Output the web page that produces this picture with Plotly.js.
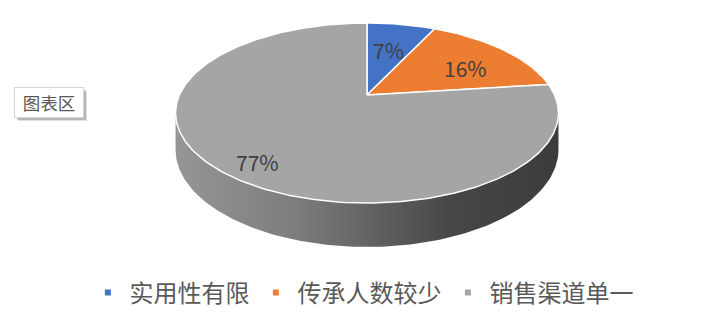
<!DOCTYPE html>
<html>
<head>
<meta charset="utf-8">
<script src="https://cdn.plot.ly/plotly-3.0.1.min.js"></script>
<style>
  html, body { margin: 0; padding: 0; background: #ffffff; }
  #chart { width: 708px; height: 322px; }
</style>
</head>
<body>
<div id="chart"></div>
<script>
// Reasons why the craft struggles, share of responses (%)
const categories = ['实用性有限', '传承人数较少', '销售渠道单一'];
const shares = [7, 16, 77];
const sliceColors = ['#4472C4', '#ED7D31', '#A5A5A5'];

// Tilted-disc geometry (pixels), perspective factor and disc thickness
const cx = 367, cy = 95, R = 187.6, Ry = 86.4, persp = 0.2, depth = 35.2;
// Label placement: radius fraction along the mid-angle, plus a downward nudge (px)
const labelRadius = [0.6, 0.7, 0.78];
const labelDrop = [0, 6, 10];

// Project a point of the disc (angle clockwise from 12 o'clock, radius fraction)
function proj(deg, r, drop) {
  const t = deg * Math.PI / 180;
  const X = r * Math.sin(t), Y = r * Math.cos(t);
  const w = 1 + persp * Y;
  return [cx + R * X / w, cy - Ry * Y / w + (drop || 0) / w];
}

const total = shares.reduce((a, b) => a + b, 0);
const traces = [];

// Front wall of the disc, between the left and right silhouette points
const leftSil = 180 + Math.acos(persp) * 180 / Math.PI;
const rightSil = 180 - Math.acos(persp) * 180 / Math.PI;
const wx = [], wy = [];
for (let a = rightSil; a <= leftSil + 1e-9; a += 1) { const p = proj(a, 1, 0); wx.push(p[0]); wy.push(p[1]); }
for (let a = leftSil; a >= rightSil - 1e-9; a -= 1) { const p = proj(a, 1, depth); wx.push(p[0]); wy.push(p[1]); }
traces.push({
  x: wx, y: wy, type: 'scatter', mode: 'lines', fill: 'toself',
  line: { width: 0, color: 'rgba(0,0,0,0)' },
  fillgradient: {
    type: 'horizontal',
    colorscale: [[0, '#969696'], [0.3, '#7e7e7e'], [0.5, '#646464'], [0.72, '#464646'], [1, '#3c3c3c']]
  },
  hoverinfo: 'skip', showlegend: false
});

// Top face slices
let acc = 0;
const mids = [];
shares.forEach((v, i) => {
  const a0 = acc / total * 360, a1 = (acc + v) / total * 360;
  mids.push((a0 + a1) / 2);
  acc += v;
  const xs = [cx], ys = [cy];
  const n = Math.max(2, Math.ceil(a1 - a0));
  for (let j = 0; j <= n; j++) {
    const p = proj(a0 + (a1 - a0) * j / n, 1, 0);
    xs.push(p[0]); ys.push(p[1]);
  }
  xs.push(cx); ys.push(cy);
  traces.push({
    x: xs, y: ys, type: 'scatter', mode: 'lines', fill: 'toself',
    fillcolor: sliceColors[i], line: { color: '#ffffff', width: 1.5 },
    hoverinfo: 'skip', showlegend: false
  });
});

// Legend entries
categories.forEach((c, i) => {
  traces.push({
    x: [null], y: [null], type: 'scatter', mode: 'markers', name: c,
    marker: { symbol: 'square', size: 6, color: sliceColors[i] },
    hoverinfo: 'skip'
  });
});

// Percentage labels on the slices
const annotations = shares.map((v, i) => {
  const p = proj(mids[i], labelRadius[i], 0);
  return {
    x: p[0], y: p[1] + labelDrop[i], xref: 'x', yref: 'y', text: v + '%', showarrow: false,
    font: { family: 'Noto Sans CJK SC, sans-serif', size: 21, color: '#404040' }
  };
});

// Chart-area tag
annotations.push({
  x: 49, y: 102.5, xref: 'x', yref: 'y', text: '图表区', showarrow: false,
  width: 62, height: 23, borderpad: 3,
  font: { family: 'Noto Sans CJK SC, sans-serif', size: 17.5, color: '#595959' },
  bgcolor: '#ffffff', bordercolor: '#d4d4d4', borderwidth: 1
});

const layout = {
  width: 708, height: 322,
  margin: { l: 0, r: 0, t: 0, b: 0 },
  paper_bgcolor: '#ffffff', plot_bgcolor: '#ffffff',
  xaxis: { range: [0, 708], visible: false, fixedrange: true },
  yaxis: { range: [322, 0], visible: false, fixedrange: true },
  showlegend: true,
  legend: {
    orientation: 'h', x: 0.122, xanchor: 'left', y: 0.09, yanchor: 'middle',
    itemwidth: 33,
    font: { family: 'Noto Sans CJK SC, sans-serif', size: 24, color: '#595959' },
    bgcolor: 'rgba(0,0,0,0)', itemclick: false, itemdoubleclick: false
  },
  shapes: [
    { type: 'rect', xref: 'x', yref: 'y', x0: 18, y0: 91, x1: 87, y1: 121,
      fillcolor: 'rgba(0,0,0,0.12)', line: { width: 0 }, layer: 'above' },
    { type: 'rect', xref: 'x', yref: 'y', x0: 17, y0: 90, x1: 86, y1: 120,
      fillcolor: 'rgba(0,0,0,0.18)', line: { width: 0 }, layer: 'above' }
  ],
  annotations: annotations,
  hovermode: false
};

Plotly.newPlot('chart', traces, layout, { staticPlot: true, displayModeBar: false });
</script>
</body>
</html>
